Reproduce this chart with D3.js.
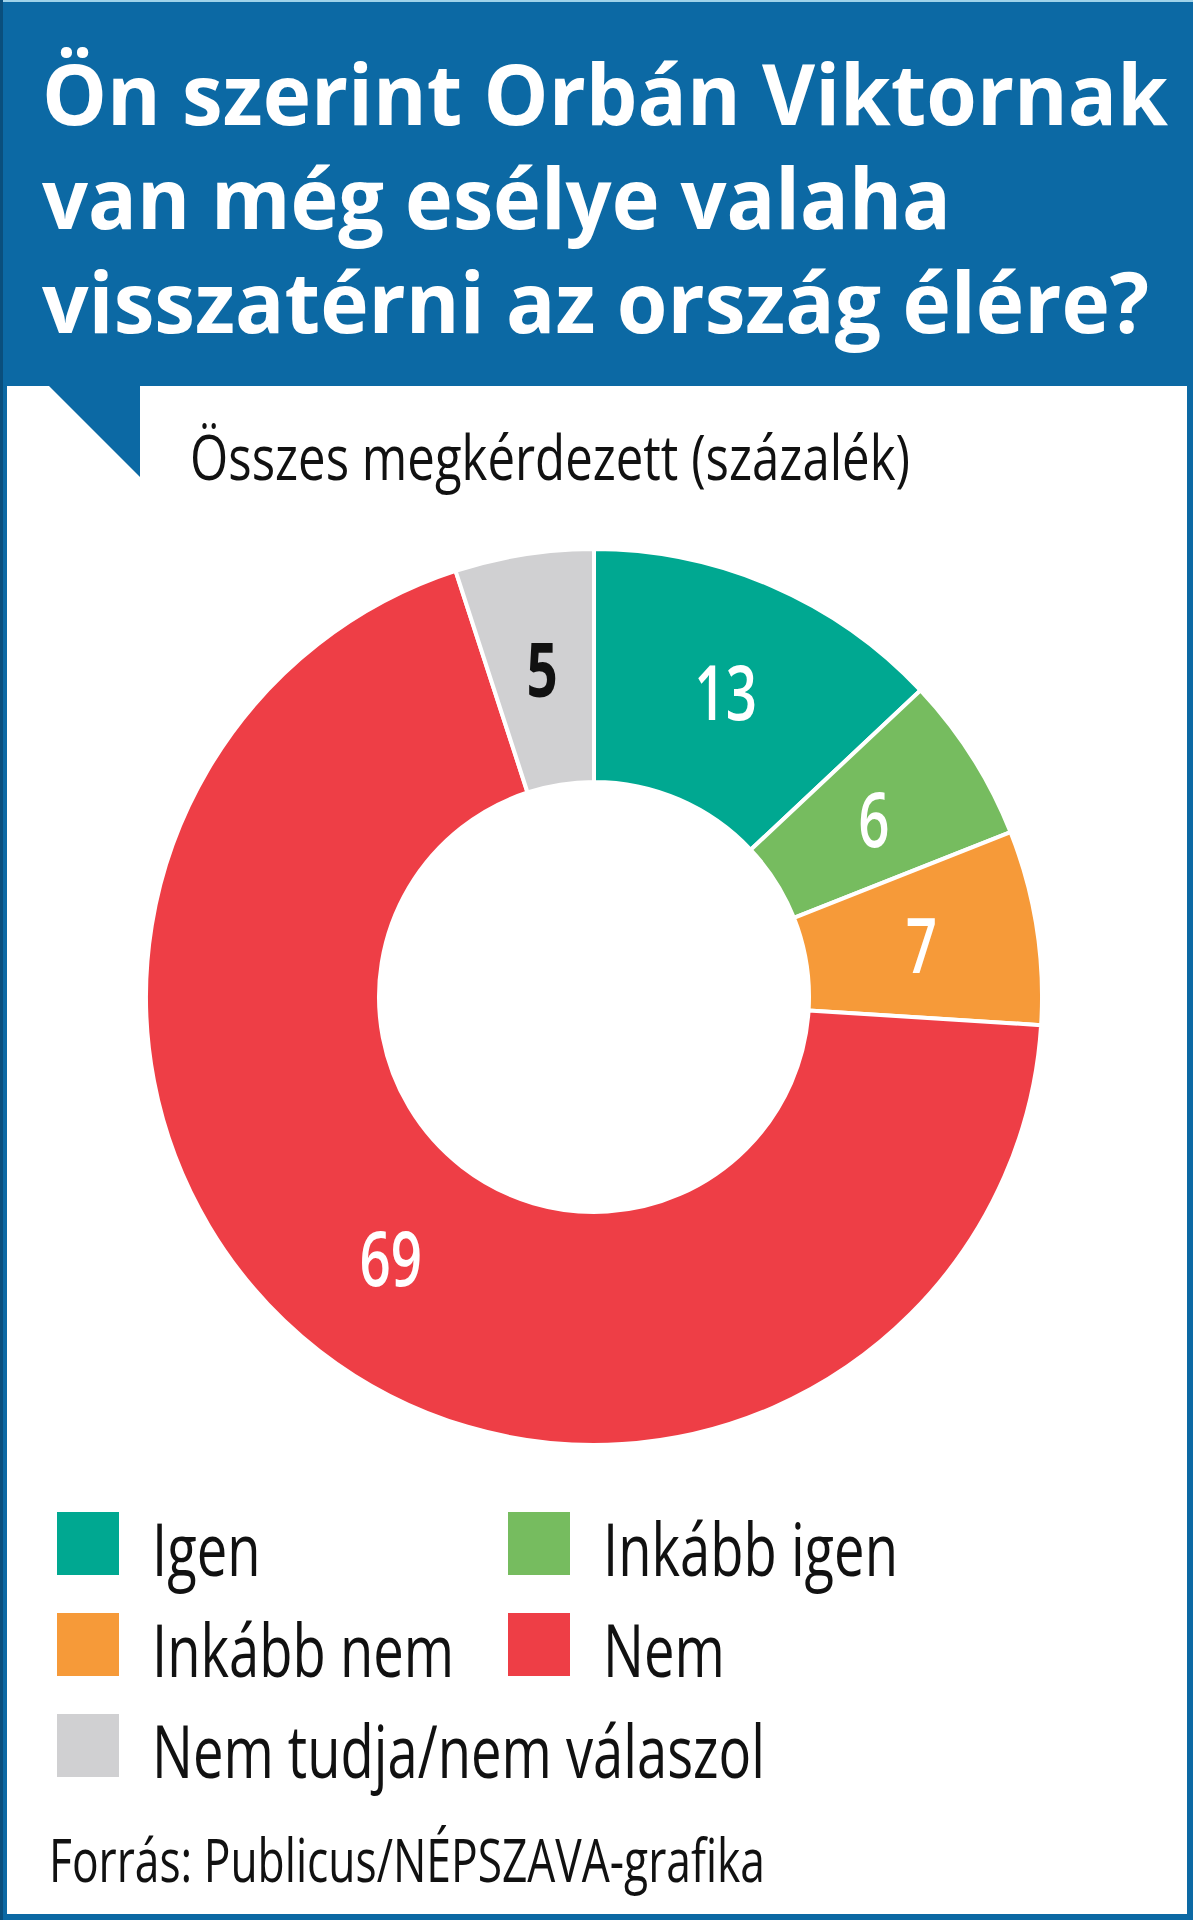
<!DOCTYPE html>
<html>
<head>
<meta charset="utf-8">
<script src="https://cdn.jsdelivr.net/npm/d3@7"></script>
<style>
  html, body { margin: 0; padding: 0; background: #fff; }
  svg { display: block; }
</style>
</head>
<body>
<svg id="chart"></svg>
<script>
// chart data
const categories = ["Igen", "Inkább igen", "Inkább nem", "Nem", "Nem tudja/nem válaszol"];
const values = [13, 6, 7, 69, 5];
const colors = ["#00a891", "#76bc5f", "#f69a39", "#ee3e46", "#d0d0d2"];
const labelColors = ["#fff", "#fff", "#fff", "#fff", "#111"];

const titleLines = ["Ön szerint Orbán Viktornak", "van még esélye valaha", "visszatérni az ország élére?"];
const subtitle = "Összes megkérdezett (százalék)";
const source = "Forrás: Publicus/NÉPSZAVA-grafika";

const width = 1193;
const height = 1920;
const blue = "#0c69a4";
const font = "'Open Sans', 'Noto Sans', sans-serif";

const svg = d3.select("#chart")
  .attr("width", width)
  .attr("height", height);

// frame + header
svg.append("rect").attr("width", width).attr("height", height).attr("fill", blue);
svg.append("rect").attr("x", 0).attr("y", 0).attr("width", width).attr("height", 2).attr("fill", "#9fd3ea");
svg.append("rect").attr("x", 0).attr("y", 0).attr("width", 3).attr("height", height).attr("fill", "#0a4f7d");
svg.append("rect")
  .attr("x", 7).attr("y", 386)
  .attr("width", width - 13).attr("height", 1914 - 386)
  .attr("fill", "#fff");

// speech bubble notch
svg.append("path")
  .attr("d", "M48,385 L140,385 L140,477 Z")
  .attr("fill", blue);

// squeeze text horizontally so it fills a given width
function fit(sel, w) {
  sel.attr("textLength", w).attr("lengthAdjust", "spacingAndGlyphs");
}

const titleWidths = [1126, 909, 1107];
svg.selectAll(".title")
  .data(titleLines)
  .enter().append("text")
  .attr("class", "title")
  .attr("x", 42)
  .attr("y", (d, i) => 125 + i * 104)
  .attr("fill", "#fff")
  .attr("font-family", font)
  .attr("font-weight", 700)
  .attr("font-size", 85)
  .text(d => d)
  .each(function(d, i) { fit(d3.select(this), titleWidths[i]); });

svg.append("text")
  .attr("x", 190)
  .attr("y", 480)
  .attr("fill", "#111")
  .attr("font-family", font)
  .attr("font-size", 62)
  .text(subtitle)
  .call(fit, 720);

// donut
const cx = 594, cy = 997;
const outerR = 448, innerR = 215;

const pie = d3.pie().sort(null).value(d => d.value);
const arc = d3.arc().innerRadius(innerR).outerRadius(outerR);

const rows = categories.map((c, i) => ({ name: c, value: values[i], color: colors[i], labelColor: labelColors[i] }));
const arcs = pie(rows);

const g = svg.append("g").attr("transform", `translate(${cx},${cy})`);

g.selectAll(".slice")
  .data(arcs)
  .enter().append("path")
  .attr("class", "slice")
  .attr("d", arc)
  .attr("fill", d => d.data.color)
  .attr("stroke", "#fff")
  .attr("stroke-width", 4)
  .attr("stroke-linejoin", "round");

g.selectAll(".val")
  .data(arcs)
  .enter().append("text")
  .attr("class", "val")
  .attr("transform", d => {
    const [x, y] = arc.centroid(d);
    return `translate(${x},${y}) scale(0.72,1)`;
  })
  .attr("text-anchor", "middle")
  .attr("dy", "0.36em")
  .attr("fill", d => d.data.labelColor)
  .attr("font-family", font)
  .attr("font-weight", d => d.data.labelColor === "#fff" ? 600 : 700)
  .attr("font-size", 76)
  .text(d => d.data.value);

// legend
const legend = svg.append("g");
const item = legend.selectAll(".item")
  .data(rows)
  .enter().append("g")
  .attr("class", "item")
  .attr("transform", (d, i) => `translate(${57 + (i % 2) * 451},${1512 + Math.floor(i / 2) * 101})`);

item.append("rect")
  .attr("width", 62)
  .attr("height", 63)
  .attr("fill", d => d.color);

item.append("text")
  .attr("x", 95)
  .attr("y", 64)
  .attr("fill", "#111")
  .attr("font-family", font)
  .attr("font-size", 74)
  .text(d => d.name);

// condense legend labels by the same factor
const longest = item.selectAll("text").nodes().reduce((a, n) => n.getComputedTextLength() > a.getComputedTextLength() ? n : a);
const k = 613 / longest.getComputedTextLength();
item.selectAll("text").each(function() {
  fit(d3.select(this), this.getComputedTextLength() * k);
});

svg.append("text")
  .attr("x", 49)
  .attr("y", 1882)
  .attr("fill", "#111")
  .attr("font-family", font)
  .attr("font-size", 60)
  .text(source)
  .call(fit, 716);
</script>
</body>
</html>
